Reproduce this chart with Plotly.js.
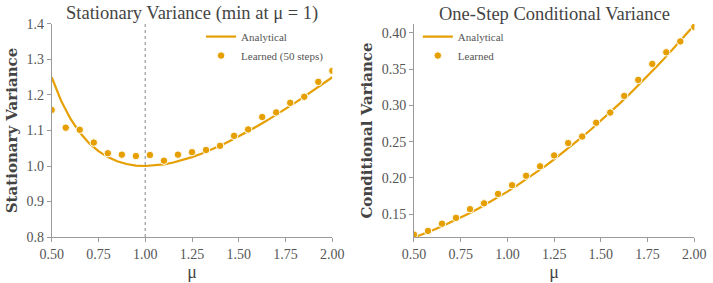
<!DOCTYPE html>
<html>
<head>
<meta charset="utf-8">
<script src="https://cdn.plot.ly/plotly-3.0.1.min.js"></script>
<style>html,body{margin:0;padding:0;background:#fff;}#chart{width:713px;height:283px;}</style>
</head>
<body>
<div id="chart"></div>
<script>
// ---- data ----
const muCurve = [0.50,0.55,0.60,0.65,0.70,0.75,0.80,0.85,0.90,0.95,1.00,1.05,1.10,1.15,1.20,1.25,1.30,1.35,1.40,1.45,1.50,1.55,1.60,1.65,1.70,1.75,1.80,1.85,1.90,1.95,2.00];
const statAnalytical = [1.2500,1.1841,1.1333,1.0942,1.0643,1.0417,1.0250,1.0132,1.0056,1.0013,1.0000,1.0012,1.0045,1.0098,1.0167,1.0250,1.0346,1.0454,1.0571,1.0698,1.0833,1.0976,1.1125,1.1280,1.1441,1.1607,1.1778,1.1953,1.2132,1.2314,1.2500];
const condAnalytical = [0.1180,0.1227,0.1278,0.1333,0.1391,0.1452,0.1517,0.1585,0.1657,0.1732,0.1811,0.1893,0.1979,0.2068,0.2160,0.2256,0.2355,0.2458,0.2564,0.2674,0.2787,0.2903,0.3023,0.3146,0.3273,0.3403,0.3537,0.3674,0.3815,0.3959,0.4106];
const muLearned = [0.500,0.575,0.650,0.725,0.800,0.875,0.950,1.025,1.100,1.175,1.250,1.325,1.400,1.475,1.550,1.625,1.700,1.775,1.850,1.925,2.000];
const statLearned = [1.158,1.108,1.102,1.066,1.036,1.032,1.028,1.031,1.015,1.032,1.039,1.045,1.057,1.085,1.103,1.138,1.151,1.178,1.195,1.237,1.268];
const condLearned = [0.122,0.127,0.137,0.145,0.157,0.165,0.178,0.190,0.203,0.216,0.231,0.248,0.257,0.276,0.290,0.313,0.335,0.357,0.373,0.388,0.408];
const xTicks = [0.50,0.75,1.00,1.25,1.50,1.75,2.00];
const minMu = 1.0;

const ORANGE = '#E69F00';
const FONT = 'Liberation Serif, DejaVu Serif, serif';
const BOLDFONT = 'DejaVu Serif, Liberation Serif, serif';

const traces = [
  {x: muCurve, y: statAnalytical, mode: 'lines', name: 'Analytical', line: {color: ORANGE, width: 2.2}, xaxis: 'x', yaxis: 'y', legend: 'legend'},
  {x: muLearned, y: statLearned, mode: 'markers', name: 'Learned (50 steps)', marker: {color: ORANGE, size: 7.5, line: {color: '#fff', width: 1}}, xaxis: 'x', yaxis: 'y', legend: 'legend'},
  {x: muCurve, y: condAnalytical, mode: 'lines', name: 'Analytical', line: {color: ORANGE, width: 2.2}, xaxis: 'x2', yaxis: 'y2', legend: 'legend2'},
  {x: muLearned, y: condLearned, mode: 'markers', name: 'Learned', marker: {color: ORANGE, size: 7.5, line: {color: '#fff', width: 1}}, xaxis: 'x2', yaxis: 'y2', legend: 'legend2'}
];

const axisCommon = {
  showline: true, linecolor: '#9a9a9a', linewidth: 1, showgrid: false, zeroline: false,
  ticks: 'outside', ticklen: 4, tickcolor: '#9a9a9a', tickwidth: 1,
  tickfont: {family: FONT, size: 14, color: '#555'}
};
const xTitle = {text: 'μ', font: {family: FONT, size: 18, color: '#444'}, standoff: 3};

const layout = {
  width: 713, height: 283,
  margin: {l: 0, r: 0, t: 0, b: 0},
  paper_bgcolor: '#fff', plot_bgcolor: '#fff',
  font: {family: FONT},
  xaxis: Object.assign({}, axisCommon, {domain: [0.0725, 0.4661], range: [0.5, 2.0], tickvals: xTicks, tickformat: '.2f', title: xTitle, anchor: 'y'}),
  yaxis: Object.assign({}, axisCommon, {domain: [0.1625, 0.9152], range: [0.8, 1.4], dtick: 0.1, tick0: 0, tickformat: '.1f', anchor: 'x',
    title: {text: '<b>Stationary Variance</b>', font: {family: BOLDFONT, size: 15, color: '#444'}, standoff: 5}}),
  xaxis2: Object.assign({}, axisCommon, {domain: [0.5806, 0.9738], range: [0.5, 2.0], tickvals: xTicks, tickformat: '.2f', title: xTitle, anchor: 'y2'}),
  yaxis2: Object.assign({}, axisCommon, {domain: [0.1625, 0.9152], range: [0.1186, 0.412], dtick: 0.05, tick0: 0, tickformat: '.2f', anchor: 'x2',
    title: {text: '<b>Conditional Variance</b>', font: {family: BOLDFONT, size: 15, color: '#444'}, standoff: 5}}),
  legend: {x: 0.282, y: 0.922, xanchor: 'left', yanchor: 'top', bgcolor: 'rgba(0,0,0,0)', font: {family: FONT, size: 11, color: '#555'}, tracegroupgap: 0, itemwidth: 30},
  legend2: {x: 0.586, y: 0.922, xanchor: 'left', yanchor: 'top', bgcolor: 'rgba(0,0,0,0)', font: {family: FONT, size: 11, color: '#555'}, tracegroupgap: 0, itemwidth: 30},
  shapes: [
    {type: 'line', xref: 'x', yref: 'y domain', x0: minMu, x1: minMu, y0: 0, y1: 1, line: {color: '#999', width: 1.2, dash: 'dot'}, layer: 'below'}
  ],
  annotations: [
    {text: 'Stationary Variance (min at μ = 1)', xref: 'paper', yref: 'paper', x: 0.2693, y: 0.952, xanchor: 'center', yanchor: 'middle', showarrow: false, font: {family: FONT, size: 18.5, color: '#444'}},
    {text: 'One-Step Conditional Variance', xref: 'paper', yref: 'paper', x: 0.7772, y: 0.952, xanchor: 'center', yanchor: 'middle', showarrow: false, font: {family: FONT, size: 18.5, color: '#444'}}
  ]
};

Plotly.newPlot('chart', traces, layout, {staticPlot: true, displayModeBar: false});
</script>
</body>
</html>
